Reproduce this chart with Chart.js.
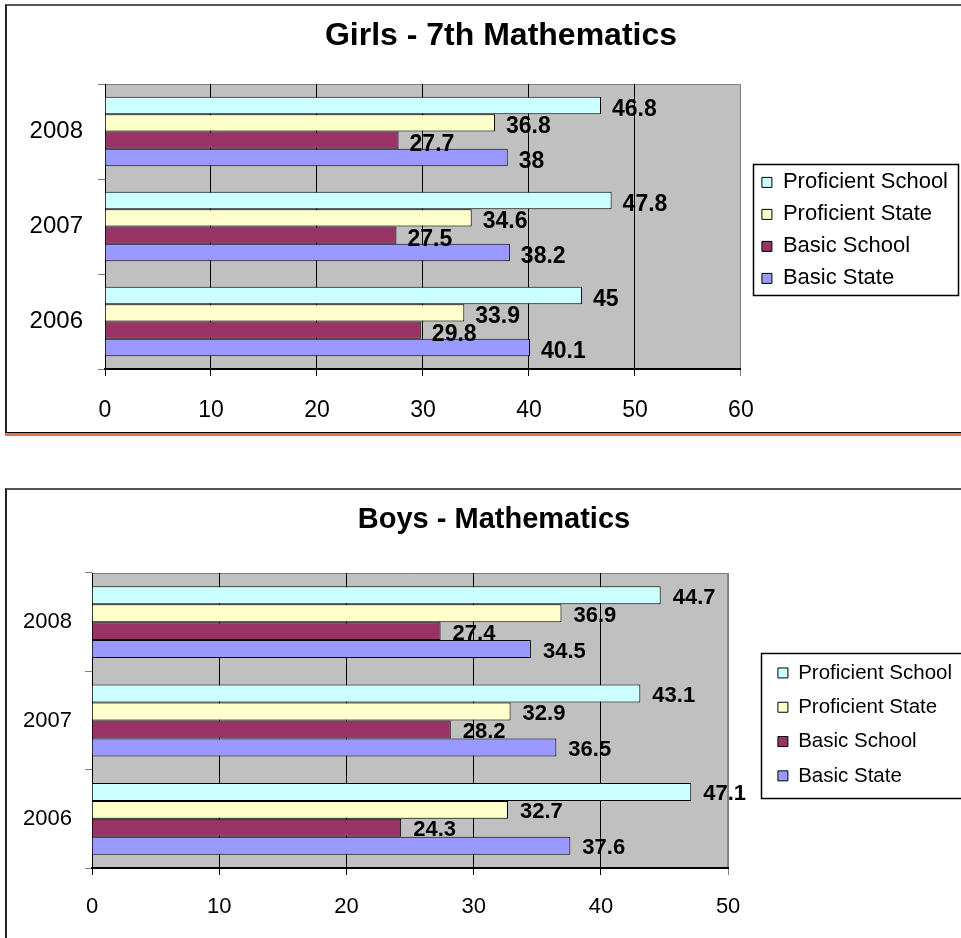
<!DOCTYPE html>
<html>
<head>
<meta charset="utf-8">
<title>Girls and Boys - Mathematics</title>
<script src="https://cdn.jsdelivr.net/npm/chart.js@4.4.1/dist/chart.umd.min.js"></script>
<style>
  html, body { margin: 0; padding: 0; background: #fff; overflow: hidden; }
  body { width: 961px; height: 938px; position: relative; }
  .panel {
    position: absolute; left: 5px; background: #fff;
    border-left: 2px solid #222; border-top: 2px solid #555;
  }
  #girls-panel { top: 4px; width: 968px; height: 426px; border-bottom: 1px solid #000; box-shadow: 0 3px 0 #e2734f; }
  #boys-panel { top: 488px; width: 962px; height: 448px; }
  canvas { display: block; }
</style>
</head>
<body>
<div class="panel" id="girls-panel"><canvas id="girls-chart" width="968" height="426"></canvas></div>
<div class="panel" id="boys-panel"><canvas id="boys-chart" width="962" height="448"></canvas></div>

<script>
// categories, top to bottom
const years = ["2008", "2007", "2006"];
const seriesNames = ["Proficient School", "Proficient State", "Basic School", "Basic State"];
const seriesColors = ["#CCFFFF", "#FFFFCC", "#993366", "#9999FF"];

// Girls - 7th Mathematics (one value per year)
const girlsProficientSchool = [46.8, 47.8, 45];
const girlsProficientState = [36.8, 34.6, 33.9];
const girlsBasicSchool = [27.7, 27.5, 29.8];
const girlsBasicState = [38, 38.2, 40.1];

// Boys - Mathematics
const boysProficientSchool = [44.7, 43.1, 47.1];
const boysProficientState = [36.9, 32.9, 32.7];
const boysBasicSchool = [27.4, 28.2, 24.3];
const boysBasicState = [34.5, 36.5, 37.6];

// x axis ticks
const girlsXMax = 60;
const boysXMax = 50;
const xStep = 10;

Chart.defaults.font.family = '"Liberation Sans", Arial, sans-serif';
Chart.defaults.color = "#000";

// grey plot background with the thin grey top/right edge
const plotFrame = {
  id: "plotFrame",
  beforeDraw(chart, args, opts) {
    const { ctx, chartArea: a } = chart;
    ctx.save();
    ctx.fillStyle = opts.fill;
    ctx.fillRect(a.left, a.top, a.right - a.left, a.bottom - a.top);
    ctx.strokeStyle = opts.edge;
    ctx.lineWidth = 1;
    ctx.beginPath();
    ctx.moveTo(a.left, a.top + 0.5);
    ctx.lineTo(a.right - 0.5, a.top + 0.5);
    ctx.lineTo(a.right - 0.5, a.bottom);
    ctx.stroke();
    ctx.restore();
  },
};

// bold value next to the end of each bar
const valueLabels = {
  id: "valueLabels",
  afterDatasetsDraw(chart, args, opts) {
    const ctx = chart.ctx;
    ctx.save();
    ctx.font = `bold ${opts.size}px "Liberation Sans", Arial, sans-serif`;
    ctx.fillStyle = "#000";
    ctx.textAlign = "left";
    ctx.textBaseline = "middle";
    chart.data.datasets.forEach((ds, i) => {
      chart.getDatasetMeta(i).data.forEach((bar, j) => {
        ctx.fillText(String(ds.data[j]), bar.x + opts.dx, bar.y + opts.dy);
      });
    });
    ctx.restore();
  },
};

// framed legend box
const legendFrame = {
  id: "legendFrame",
  afterDraw(chart, args, opts) {
    const boxes = chart.legend && chart.legend.legendHitBoxes;
    if (!boxes || !boxes.length) return;
    const first = boxes[0];
    const last = boxes[boxes.length - 1];
    const left = Math.min(...boxes.map((b) => b.left)) - opts.left;
    const right = Math.max(...boxes.map((b) => b.left + b.width)) + opts.right;
    const top = first.top + first.height / 2 - opts.top;
    const bottom = last.top + last.height / 2 + opts.bottom;
    const ctx = chart.ctx;
    ctx.save();
    ctx.strokeStyle = "#000";
    ctx.lineWidth = 1.5;
    ctx.strokeRect(Math.round(left) + 0.5, Math.round(top) + 0.5, Math.round(right - left), Math.round(bottom - top));
    ctx.restore();
  },
};

function spacer(width, weight) {
  return {
    type: "category",
    axis: "y",
    position: "right",
    weight: weight,
    grid: { display: false },
    border: { display: false },
    ticks: { display: false },
    afterFit: (s) => { s.width = width; },
  };
}

function buildChart(canvasId, title, values, xMax, look) {
  const datasets = seriesNames.map((name, i) => ({
    label: name,
    data: values[i],
    backgroundColor: seriesColors[i],
    borderColor: "#000",
    borderWidth: 1,
    xAxisID: "x",
    yAxisID: "y",
    categoryPercentage: 0.73,
    barPercentage: 1.0,
  }));

  return new Chart(document.getElementById(canvasId), {
    type: "bar",
    data: { labels: years, datasets },
    plugins: [plotFrame, valueLabels, legendFrame],
    options: {
      indexAxis: "y",
      responsive: false,
      animation: false,
      events: [],
      layout: { padding: { left: look.padLeft, right: 0, top: 0, bottom: 0 } },
      scales: {
        x: {
          type: "linear",
          position: "bottom",
          min: 0,
          max: xMax,
          ticks: { stepSize: xStep, font: { size: look.xTickSize }, padding: look.xTickPad, color: "#000" },
          grid: {
            color: (c) => (c.tick && c.tick.value === xMax ? "#808080" : "#000"),
            lineWidth: 1,
            tickLength: 7,
          },
          border: { color: "#000", width: 2 },
          afterFit: (s) => { s.height = look.xAxisHeight; },
        },
        y: {
          type: "category",
          position: "left",
          ticks: { font: { size: look.yTickSize }, padding: look.yTickPad, color: "#000" },
          grid: { drawOnChartArea: false, color: "#808080", tickLength: 7 },
          border: { color: "#000", width: 1 },
          afterFit: (s) => { s.width = look.yAxisWidth; },
        },
        // empty strips: between plot and legend, and right of the legend
        gapInner: spacer(look.legendGap, 0),
        gapOuter: spacer(look.outerGap, 2000),
      },
      plugins: {
        title: {
          display: true,
          text: title,
          color: "#000",
          font: { size: look.titleSize, weight: "bold" },
          padding: { top: look.titleTop, bottom: look.titleBottom },
        },
        legend: {
          position: "right",
          align: "center",
          fullSize: false,
          maxWidth: 400,
          // empty legend title only nudges the entries down a little
          title: { display: true, text: "", padding: 0, font: { size: look.legendNudge } },
          labels: {
            boxWidth: 10,
            boxHeight: 10,
            padding: look.legendPad,
            color: "#000",
            font: { size: look.legendSize },
          },
        },
        tooltip: { enabled: false },
        plotFrame: { fill: "#C0C0C0", edge: "#808080" },
        valueLabels: { size: look.valueSize, dx: look.valueDx, dy: look.valueDy },
        legendFrame: look.frame,
      },
    },
  });
}

buildChart(
  "girls-chart",
  "Girls - 7th Mathematics",
  [girlsProficientSchool, girlsProficientState, girlsBasicSchool, girlsBasicState],
  girlsXMax,
  {
    padLeft: 20,
    titleSize: 32, titleTop: 11, titleBottom: 28.6,
    xAxisHeight: 63, xTickSize: 23, xTickPad: 21,
    yAxisWidth: 78, yTickSize: 24, yTickPad: 15,
    legendGap: 11, outerGap: 17, legendPad: 10, legendSize: 22, legendNudge: 6.5,
    valueSize: 23, valueDx: 11, valueDy: 4,
    frame: { left: 9, right: 10, top: 18, bottom: 17 },
  }
);

buildChart(
  "boys-chart",
  "Boys - Mathematics",
  [boysProficientSchool, boysProficientState, boysBasicSchool, boysBasicState],
  boysXMax,
  {
    padLeft: 12,
    titleSize: 29, titleTop: 12.6, titleBottom: 35.6,
    xAxisHeight: 70, xTickSize: 22, xTickPad: 19,
    yAxisWidth: 73, yTickSize: 22, yTickPad: 13,
    legendGap: 36, outerGap: 7, legendPad: 13.8, legendSize: 20.5, legendNudge: 6.5,
    valueSize: 22, valueDx: 12, valueDy: 2.5,
    frame: { left: 17, right: 30, top: 20, bottom: 22 },
  }
);
</script>
</body>
</html>
